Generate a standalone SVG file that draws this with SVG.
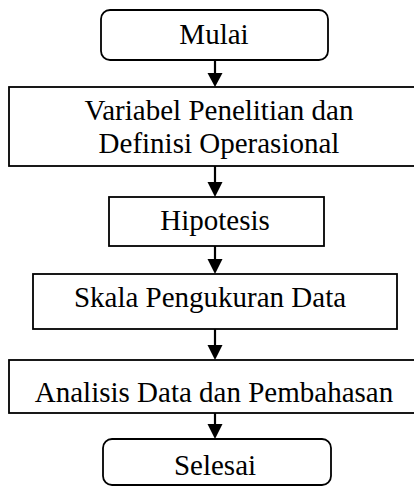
<svg xmlns="http://www.w3.org/2000/svg" width="414" height="487" viewBox="0 0 414 487">
<defs>
<marker id="ah" markerWidth="15" markerHeight="14" refX="7.5" refY="14" orient="auto" markerUnits="userSpaceOnUse" viewBox="0 0 15 14">
<path d="M0,0 L15,0 L7.5,14 Z" fill="#000"/>
</marker>
<style>
.box{fill:#fff;stroke:#000;stroke-width:1.8}
.t{font-family:"Liberation Serif","Times New Roman",serif;font-size:29px;fill:#000;text-anchor:middle}
.c{stroke:#000;stroke-width:2.2;fill:none}
</style>
</defs>
<rect width="414" height="487" fill="#fff"/>
<g id="connectors">
<path class="c" d="M215,60 V73"/><path d="M207.5,73 H222.5 L215,87 Z"/>
<path class="c" d="M215,166 V182"/><path d="M207.5,182 H222.5 L215,197 Z"/>
<path class="c" d="M215,246 V259"/><path d="M207.5,259 H222.5 L215,274 Z"/>
<path class="c" d="M215,329 V345"/><path d="M207.5,345 H222.5 L215,360 Z"/>
<path class="c" d="M215,413 V424"/><path d="M207.5,424 H222.5 L215,439 Z"/>
</g>
<g id="mulai">
<rect class="box" x="101" y="10" width="227" height="50" rx="9"/>
<text class="t" x="214" y="44">Mulai</text>
</g>
<g id="variabel">
<rect class="box" x="9" y="87" width="412" height="79"/>
<text class="t" x="219" y="120">Variabel Penelitian dan</text>
<text class="t" x="219" y="153">Definisi Operasional</text>
</g>
<g id="hipotesis">
<rect class="box" x="109" y="197" width="215" height="49"/>
<text class="t" x="215" y="230">Hipotesis</text>
</g>
<g id="skala">
<rect class="box" x="33" y="274" width="364" height="55"/>
<text class="t" x="210" y="307">Skala Pengukuran Data</text>
</g>
<g id="analisis">
<rect class="box" x="9" y="360" width="412" height="53"/>
<text class="t" x="214" y="402">Analisis Data dan Pembahasan</text>
</g>
<g id="selesai">
<rect class="box" x="103" y="439" width="228" height="46" rx="9"/>
<text class="t" x="215" y="475">Selesai</text>
</g>
</svg>
